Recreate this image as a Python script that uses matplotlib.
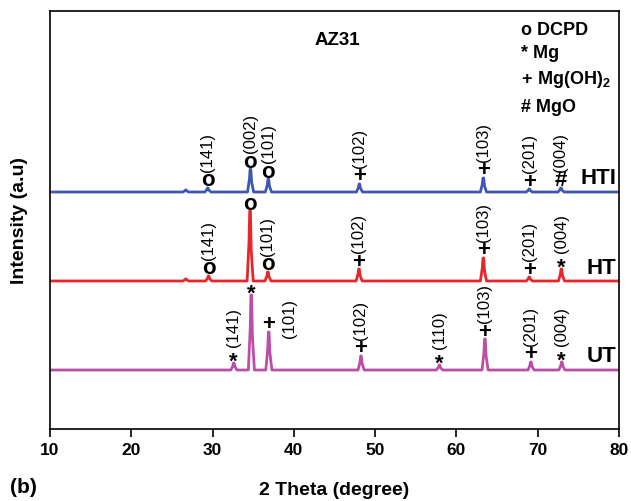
import numpy as np
import matplotlib.pyplot as plt

plt.rcParams['font.family'] = ['Liberation Sans', 'DejaVu Sans']
plt.rcParams['mathtext.fontset'] = 'custom'
plt.rcParams['mathtext.bf'] = 'Liberation Sans:bold'
plt.rcParams['mathtext.rm'] = 'Liberation Sans'

# peak positions (2 theta) and heights above each baseline
hti_pos = [26.7, 29.4, 34.65, 36.85, 48.05, 63.3, 68.95, 72.85]
hti_h = [2, 4, 23, 13, 8, 14, 3, 4]
ht_pos = [26.7, 29.5, 34.6, 36.8, 48.0, 63.3, 68.95, 72.9]
ht_h = [2, 5, 70, 9, 12, 23, 4, 12]
ut_pos = [32.6, 34.75, 36.9, 48.25, 57.9, 63.5, 69.15, 72.95]
ut_h = [7, 75, 38, 14, 5, 31, 8, 8]

hti_base, ht_base, ut_base = 237, 148, 59

# peak markers: (position, symbol, hkl label)
hti_marks = [(29.4, 'o', '(141)'), (34.65, 'o', '(002)'), (36.85, 'o', '(101)'),
             (48.05, '+', '(102)'), (63.3, '+', '(103)'), (68.95, '+', '(201)'),
             (72.85, '#', '(004)')]
ht_marks = [(29.5, 'o', '(141)'), (34.6, 'o', ''), (36.8, 'o', '(101)'),
            (48.0, '+', '(102)'), (63.3, '+', '(103)'), (68.95, '+', '(201)'),
            (72.9, '*', '(004)')]
ut_marks = [(32.6, '*', '(141)'), (34.75, '*', ''), (36.9, '+', '(101)'),
            (48.25, '+', '(102)'), (57.9, '*', '(110)'), (63.5, '+', '(103)'),
            (69.15, '+', '(201)'), (72.95, '*', '(004)')]

patterns = [
    ('HTI', hti_pos, hti_h, hti_base, hti_marks, '#3f57b0'),
    ('HT', ht_pos, ht_h, ht_base, ht_marks, '#e8262a'),
    ('UT', ut_pos, ut_h, ut_base, ut_marks, '#bb4fa8'),
]


def trace(pos, h, base):
    # baseline with narrow spikes at each listed peak
    xs, ys = [10.0], [base]
    for p, v in sorted(zip(pos, h)):
        xs += [p - 0.35, p - 0.12, p - 0.03, p + 0.05, p + 0.15, p + 0.4]
        ys += [base, base + v * 0.55, base + v, base + v, base + v * 0.45, base]
    xs.append(80.0)
    ys.append(base)
    return xs, ys


fig = plt.figure(figsize=(6.31, 5.02), dpi=100)
ax = fig.add_axes([50 / 631, 72 / 502, 569 / 631, 418 / 502])

for name, pos, h, base, marks, color in patterns:
    xs, ys = trace(pos, h, base)
    ax.plot(xs, ys, color=color, lw=2)
    heights = dict(zip(pos, h))
    for p, sym, hkl in marks:
        top = base + heights[p]
        # the asterisk glyph sits high in its box, so pull it down
        sym_y = top + (2 if sym == '*' else 8)
        ax.text(p, sym_y, sym, ha='center', va='center', fontsize=16,
                fontweight='bold')
        if hkl:
            dx, ly = 0.0, top + 17
            if name == 'UT' and hkl == '(101)':
                dx, ly = 2.6, top - 5
            ax.text(p + dx, ly, hkl, ha='center', va='bottom', fontsize=12,
                    rotation=90)
    ax.text(79.7, base + 14, name, ha='right', va='center', fontsize=16,
            fontweight='bold')

ax.text(45.3, 390, 'AZ31', ha='center', va='center', fontsize=13.5,
        fontweight='bold')
legend_rows = [('o DCPD', 400), ('* Mg', 377), (r'$\mathbf{+\ Mg(OH)_2}$', 350),
               ('# MgO', 323)]
for txt, y in legend_rows:
    ax.text(68.0, y, txt, ha='left', va='center', fontsize=13,
            fontweight='bold')

ax.set_xlim(10, 80)
ax.set_ylim(0, 418)
ax.set_xticks(np.arange(10, 81, 10))
ax.set_yticks([])
ax.tick_params(axis='x', direction='out', length=6, width=1.2, labelsize=12.5)
for lbl in ax.get_xticklabels():
    lbl.set_fontweight('bold')
for sp in ax.spines.values():
    sp.set_linewidth(1.2)

ax.set_xlabel('2 Theta (degree)', fontsize=14, fontweight='bold', labelpad=17)
ax.set_ylabel('Intensity (a.u)', fontsize=14, fontweight='bold', labelpad=16)
fig.text(10 / 631, 14 / 502, '(b)', fontsize=15, fontweight='bold',
         va='center', ha='left')

fig.savefig('out.png', dpi=100)
